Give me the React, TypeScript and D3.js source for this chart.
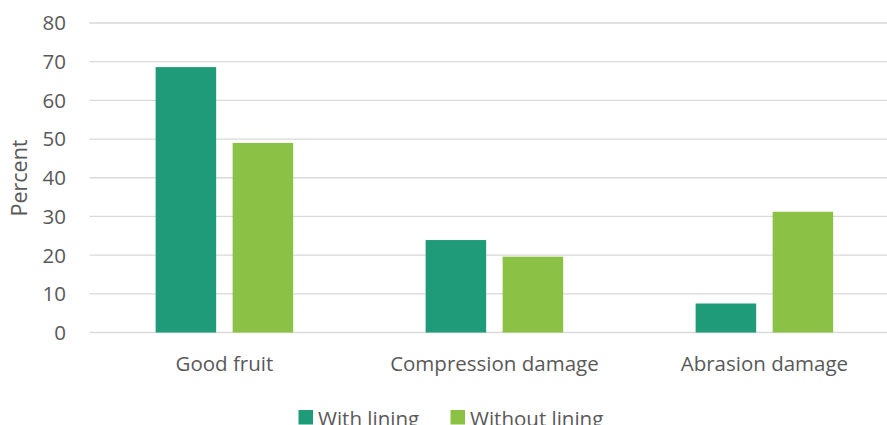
import * as d3 from "d3";
import { useEffect, useRef } from "react";

const categories = ["Good fruit", "Compression damage", "Abrasion damage"];
const seriesNames = ["With lining", "Without lining"];
const withLining = [68.6, 23.9, 7.5];
const withoutLining = [49.0, 19.6, 31.2];
const yTicks = [0, 10, 20, 30, 40, 50, 60, 70, 80];
const colors = ["#1f9b79", "#8bc145"];

const W = 887;
const H = 425;

const App = () => {
  const svgRef = useRef<SVGSVGElement>(null);

  useEffect(() => {
    const svg = d3.select(svgRef.current);
    svg.selectAll("*").remove();
    const font = "'Open Sans', sans-serif";
    const textColor = "#595959";
    const fs = 20.5;

    const x0 = d3.scaleBand().domain(categories).range([89.4, 899.4]).padding(0);
    const x1 = d3
      .scaleBand()
      .domain(seriesNames)
      .range([0, x0.bandwidth()])
      .paddingInner(0.214)
      .paddingOuter(0.86);
    const y = d3.scaleLinear().domain([0, 80]).range([332.5, 23]);

    // gridlines
    svg
      .append("g")
      .selectAll("line")
      .data(yTicks)
      .enter()
      .append("line")
      .attr("x1", 89.4)
      .attr("x2", W)
      .attr("y1", (d) => y(d))
      .attr("y2", (d) => y(d))
      .attr("stroke", "#d9d9d9")
      .attr("stroke-width", 1.3);

    // y tick labels
    svg
      .append("g")
      .selectAll("text")
      .data(yTicks)
      .enter()
      .append("text")
      .attr("x", 66)
      .attr("y", (d) => y(d))
      .attr("dy", "0.36em")
      .attr("text-anchor", "end")
      .attr("font-family", font)
      .attr("font-size", fs)
      .attr("fill", textColor)
      .text((d) => d);

    // y title
    svg
      .append("text")
      .attr("transform", `translate(27, 178) rotate(-90)`)
      .attr("text-anchor", "middle")
      .attr("font-family", font)
      .attr("font-size", 21.5)
      .attr("fill", textColor)
      .text("Percent");

    const rows = categories.map((c, i) => ({
      cat: c,
      vals: [withLining[i], withoutLining[i]],
    }));

    const groups = svg
      .append("g")
      .selectAll("g")
      .data(rows)
      .enter()
      .append("g")
      .attr("transform", (d) => `translate(${x0(d.cat)}, 0)`);

    groups
      .selectAll("rect")
      .data((d) => d.vals.map((v, j) => ({ name: seriesNames[j], v, j })))
      .enter()
      .append("rect")
      .attr("x", (d) => x1(d.name)!)
      .attr("width", x1.bandwidth())
      .attr("y", (d) => y(d.v))
      .attr("height", (d) => y(0) - y(d.v))
      .attr("fill", (d) => colors[d.j]);

    // x labels
    svg
      .append("g")
      .selectAll("text")
      .data(categories)
      .enter()
      .append("text")
      .attr("x", (d) => x0(d)! + x0.bandwidth() / 2)
      .attr("y", 370.5)
      .attr("text-anchor", "middle")
      .attr("font-family", font)
      .attr("font-size", fs)
      .attr("fill", textColor)
      .text((d) => d);

    // legend
    const legendX = [298.5, 450.5];
    const lg = svg
      .append("g")
      .selectAll("g")
      .data(seriesNames)
      .enter()
      .append("g")
      .attr("transform", (_, i) => `translate(${legendX[i]}, 0)`);
    lg.append("rect")
      .attr("x", 0)
      .attr("y", 410)
      .attr("width", 14.5)
      .attr("height", 14.5)
      .attr("fill", (_, i) => colors[i]);
    lg.append("text")
      .attr("x", 19.5)
      .attr("y", 426)
      .attr("font-family", font)
      .attr("font-size", fs)
      .attr("fill", textColor)
      .text((d) => d);
  }, []);

  return (
    <div style={{ position: "fixed", left: 0, top: 0 }}>
      <svg ref={svgRef} width={W} height={H} style={{ display: "block", background: "#fff" }} />
    </div>
  );
};

export default App;
